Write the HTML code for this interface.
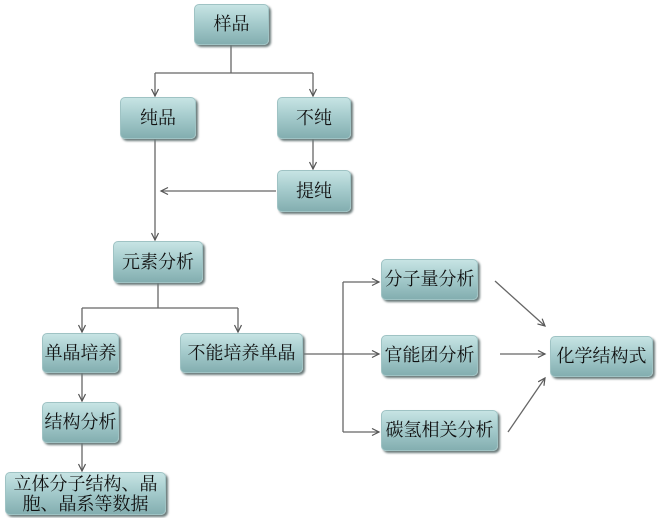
<!DOCTYPE html>
<html><head><meta charset="utf-8"><style>
body{margin:0;width:660px;height:518px;background:#fff;position:relative;overflow:hidden;font-family:"Liberation Serif","Noto Serif CJK SC",serif}
.b{position:absolute;box-sizing:border-box;border-radius:5px;background:linear-gradient(#c7e4e4 0%,#a6cccd 45%,#83aeb0 100%);box-shadow:2px 2px 2px #6a7a7a;border:1px solid #9fc3c4;display:flex;align-items:center;justify-content:center;text-align:center;font-size:18px;color:#111;line-height:21px}
svg{position:absolute;left:0;top:0}
</style></head><body>
<svg width="660" height="518" viewBox="0 0 660 518">
<defs><marker id="a" markerWidth="10" markerHeight="10" refX="8" refY="4" orient="auto" markerUnits="userSpaceOnUse"><path d="M1,0.5 L8,4 L1,7.5" fill="none" stroke="#555" stroke-width="1.2"/></marker></defs>
<g stroke="#666" stroke-width="1.3" fill="none">
<path d="M231,45 V73 M155,73 H313"/>
<path d="M155,73 V96" marker-end="url(#a)"/>
<path d="M313,73 V96" marker-end="url(#a)"/>
<path d="M313,139 V169" marker-end="url(#a)"/>
<path d="M276,191 H161" marker-end="url(#a)"/>
<path d="M155,139 V240" marker-end="url(#a)"/>
<path d="M158,283 V308 M82,308 H238"/>
<path d="M82,308 V332" marker-end="url(#a)"/>
<path d="M238,308 V332" marker-end="url(#a)"/>
<path d="M82,373 V401" marker-end="url(#a)"/>
<path d="M82,443 V471" marker-end="url(#a)"/>
<path d="M304,354 H343 M343,282 V432"/>
<path d="M343,282 H379" marker-end="url(#a)"/>
<path d="M343,354 H379" marker-end="url(#a)"/>
<path d="M343,432 H379" marker-end="url(#a)"/>
<path d="M495,281 L545,326" marker-end="url(#a)"/>
<path d="M500,354 H545" marker-end="url(#a)"/>
<path d="M508,432 L545,378" marker-end="url(#a)"/>
</g></svg>
<div class="b" style="left:194px;top:4px;width:75px;height:41px">样品</div>
<div class="b" style="left:120px;top:97px;width:76px;height:42px">纯品</div>
<div class="b" style="left:277px;top:97px;width:74px;height:42px">不纯</div>
<div class="b" style="left:277px;top:170px;width:74px;height:42px">提纯</div>
<div class="b" style="left:113px;top:241px;width:90px;height:42px">元素分析</div>
<div class="b" style="left:42px;top:333px;width:77px;height:40px">单晶培养</div>
<div class="b" style="left:180px;top:333px;width:123px;height:40px">不能培养单晶</div>
<div class="b" style="left:42px;top:402px;width:77px;height:41px">结构分析</div>
<div class="b" style="left:5px;top:472px;width:161px;height:43px;line-height:20px">立体分子结构、晶<br>胞、晶系等数据</div>
<div class="b" style="left:381px;top:259px;width:97px;height:41px">分子量分析</div>
<div class="b" style="left:381px;top:335px;width:97px;height:41px">官能团分析</div>
<div class="b" style="left:381px;top:410px;width:117px;height:41px">碳氢相关分析</div>
<div class="b" style="left:550px;top:336px;width:103px;height:41px">化学结构式</div>
</body></html>
